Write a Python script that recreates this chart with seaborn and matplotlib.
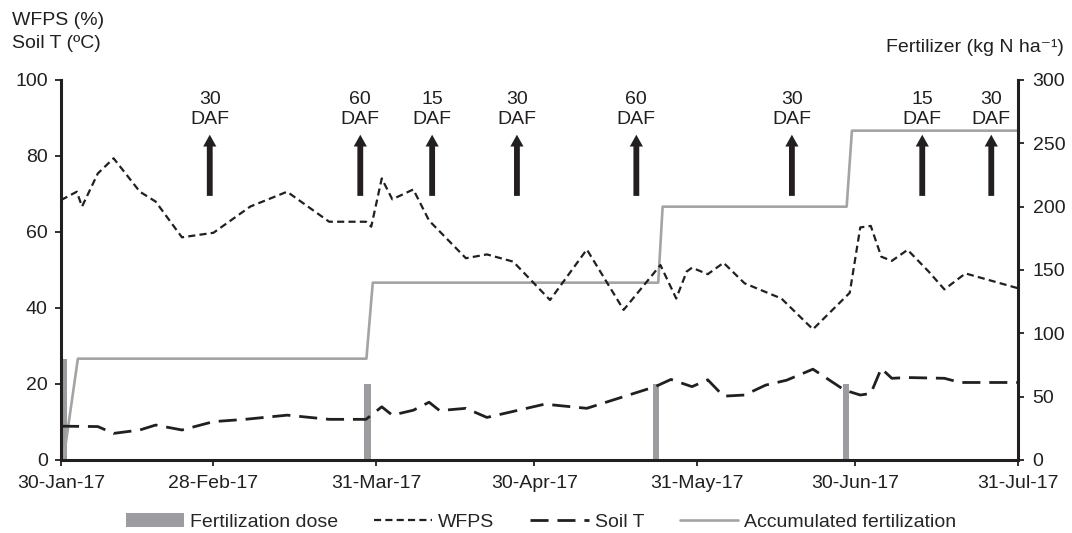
import matplotlib
matplotlib.use("Agg")
import matplotlib.pyplot as plt
import matplotlib.dates as mdates
import numpy as np
import pandas as pd
import seaborn as sns

# ---------------- data ----------------
wfps_dates = ['2017-01-30', '2017-02-02', '2017-02-03', '2017-02-06', '2017-02-09', '2017-02-14',
              '2017-02-17', '2017-02-22', '2017-02-28', '2017-03-07', '2017-03-14', '2017-03-22',
              '2017-03-29', '2017-03-30', '2017-04-01', '2017-04-03', '2017-04-07', '2017-04-10',
              '2017-04-17', '2017-04-21', '2017-04-26', '2017-05-03', '2017-05-10', '2017-05-17',
              '2017-05-24', '2017-05-27', '2017-05-29', '2017-05-30', '2017-06-02', '2017-06-05',
              '2017-06-09', '2017-06-16', '2017-06-22', '2017-06-29', '2017-07-01', '2017-07-03',
              '2017-07-05', '2017-07-07', '2017-07-10', '2017-07-14', '2017-07-17', '2017-07-21',
              '2017-07-31']
wfps_values = [68.4, 70.6, 66.7, 75.4, 79.4, 70.6, 68.0, 58.6, 59.8, 66.7, 70.6, 62.7,
               62.7, 61.4, 74.1, 68.6, 71.2, 63.0, 53.1, 54.1, 52.2, 42.1, 55.4, 39.5,
               51.3, 42.5, 49.6, 50.6, 48.9, 51.9, 46.5, 42.5, 34.4, 44.0, 61.2, 61.6,
               53.5, 52.4, 55.3, 49.6, 44.9, 49.1, 45.2]

soilt_dates = ['2017-01-30', '2017-02-06', '2017-02-09', '2017-02-14', '2017-02-17', '2017-02-22',
               '2017-02-28', '2017-03-06', '2017-03-14', '2017-03-22', '2017-03-29', '2017-04-01',
               '2017-04-03', '2017-04-07', '2017-04-10', '2017-04-12', '2017-04-17', '2017-04-21',
               '2017-05-02', '2017-05-10', '2017-05-23', '2017-05-26', '2017-05-30', '2017-06-02',
               '2017-06-05', '2017-06-09', '2017-06-13', '2017-06-17', '2017-06-22', '2017-06-28',
               '2017-07-01', '2017-07-03', '2017-07-05', '2017-07-07', '2017-07-10', '2017-07-17',
               '2017-07-20', '2017-07-31']
soilt_values = [8.9, 8.8, 7.0, 7.9, 9.2, 7.9, 10.1, 10.7, 11.8, 10.7, 10.7, 14.0,
                11.8, 13.1, 15.2, 13.0, 13.6, 11.2, 14.7, 13.6, 19.3, 21.2, 19.3, 21.1,
                16.8, 17.1, 19.7, 21.0, 23.9, 18.4, 17.1, 17.5, 24.1, 21.5, 21.7, 21.5,
                20.4, 20.4]

fert_dates = ['2017-01-30 13:00', '2017-03-29 07:00', '2017-05-23 05:00', '2017-06-28 05:00']
fert_doses = [80, 60, 60, 60]

accum_dates = ['2017-01-30 11:00', '2017-02-02 05:00', '2017-03-29 02:00', '2017-03-30 07:00',
               '2017-05-23 14:00', '2017-05-24 10:00', '2017-06-28 10:00', '2017-06-29 10:00',
               '2017-07-31 00:00']
accum_values = [0, 80, 80, 140, 140, 200, 200, 260, 260]

arrow_dates = ['2017-02-27 07:00', '2017-03-27 22:00', '2017-04-10 14:00', '2017-04-26 17:00',
               '2017-05-19 10:00', '2017-06-18 00:00', '2017-07-12 19:00', '2017-07-25 22:00']
arrow_labels = ['30', '60', '15', '30', '60', '30', '15', '30']

tick_dates = ['2017-01-30', '2017-02-28', '2017-03-31', '2017-04-30', '2017-05-31',
              '2017-06-30', '2017-07-31']
tick_labels = ['30-Jan-17', '28-Feb-17', '31-Mar-17', '30-Apr-17', '31-May-17',
               '30-Jun-17', '31-Jul-17']

# ---------------- style ----------------
sns.set_style("ticks")
FONT = ['Liberation Sans', 'DejaVu Sans']
plt.rcParams['font.family'] = FONT
FS = 14
plt.rcParams['font.size'] = FS
INK = '#231f20'
BAR_C = '#9d9da1'
ACC_C = '#a4a4a4'

fig = plt.figure(figsize=(10.72, 5.33), dpi=100)
ax = fig.add_axes([61 / 1072, 1 - 460 / 533, (1018 - 61) / 1072, (460 - 80) / 533])
ax2 = ax.twinx()

wfps_df = pd.DataFrame({'date': pd.to_datetime(wfps_dates, format='mixed'), 'v': wfps_values})
soil_df = pd.DataFrame({'date': pd.to_datetime(soilt_dates, format='mixed'), 'v': soilt_values})
acc_df = pd.DataFrame({'date': pd.to_datetime(accum_dates, format='mixed'), 'v': accum_values})
fert_x = pd.to_datetime(fert_dates, format='mixed')

# right axis: fertilizer
ax2.bar(fert_x, fert_doses, width=1.15, color=BAR_C, edgecolor='none', linewidth=0,
        label='Fertilization dose', zorder=1)
sns.lineplot(data=acc_df, x='date', y='v', ax=ax2, color=ACC_C, lw=1.9,
             label='Accumulated fertilization', legend=False, zorder=2)

# left axis: WFPS and soil T
sns.lineplot(data=wfps_df, x='date', y='v', ax=ax, color=INK, lw=1.6,
             linestyle=(0, (3.2, 1.9)), label='WFPS', legend=False)
sns.lineplot(data=soil_df, x='date', y='v', ax=ax, color=INK, lw=2.0,
             linestyle=(0, (6.5, 3.2)), label='Soil T', legend=False)

ax.set_zorder(ax2.get_zorder() + 1)
ax.patch.set_visible(False)

# arrows and DAF labels
for d, lab in zip(pd.to_datetime(arrow_dates, format='mixed'), arrow_labels):
    xd = mdates.date2num(d)
    ax.annotate('', xy=(xd, 85.6), xytext=(xd, 69.5),
                arrowprops=dict(arrowstyle='simple,head_width=0.95,head_length=0.85,tail_width=0.42',
                                color=INK, lw=0, shrinkA=0, shrinkB=0, mutation_scale=10))
    ax.text(xd, 87.4, f"{lab}\nDAF", ha='center', va='bottom', fontsize=FS,
            color=INK, linespacing=1.22)

# axes limits & ticks
x0, x1 = pd.Timestamp('2017-01-30'), pd.Timestamp('2017-07-31')
ax.set_xlim(x0, x1)
ax.set_ylim(0, 100)
ax2.set_ylim(0, 300)
ax.set_yticks(np.arange(0, 101, 20))
ax2.set_yticks(np.arange(0, 301, 50))
ax.set_xticks(pd.to_datetime(tick_dates))
ax.set_xticklabels(tick_labels)
ax.set_xlabel('')
ax.set_ylabel('')
ax2.set_xlabel('')
ax2.set_ylabel('')

for a in (ax, ax2):
    a.tick_params(axis='both', direction='out', length=4.5, width=1.3, colors=INK,
                  labelsize=FS, pad=4)
    a.spines['top'].set_visible(False)
    for s in ('left', 'right', 'bottom'):
        a.spines[s].set_linewidth(2.2)
        a.spines[s].set_color(INK)
ax.spines['right'].set_visible(False)
ax2.spines['left'].set_visible(False)
ax2.spines['bottom'].set_visible(False)
ax.tick_params(axis='x', pad=6)
ax.tick_params(axis='y', pad=5)
ax2.tick_params(axis='y', pad=6)

# axis titles
fig.text(12 / 1072, 1 - 12 / 533, "WFPS (%)\nSoil T (ºC)", ha='left', va='top',
         fontsize=FS, color=INK, linespacing=1.45)
fig.text(1064 / 1072, 1 - 52 / 533, "Fertilizer (kg N ha\u207b\u00b9)", ha='right',
         va='baseline', fontsize=FS, color=INK, family=FONT)

# legend
h1, l1 = ax.get_legend_handles_labels()
h2, l2 = ax2.get_legend_handles_labels()
hmap = dict(zip(l1 + l2, h1 + h2))
order = ['Fertilization dose', 'WFPS', 'Soil T', 'Accumulated fertilization']
fig.legend([hmap[k] for k in order], order, loc='center', ncol=4, frameon=False,
           bbox_to_anchor=(541 / 1072, 1 - 522 / 533), bbox_transform=fig.transFigure,
           handlelength=3.0, handleheight=0.75, handletextpad=0.3, columnspacing=1.85,
           fontsize=FS)

fig.savefig('out.png', dpi=100)
